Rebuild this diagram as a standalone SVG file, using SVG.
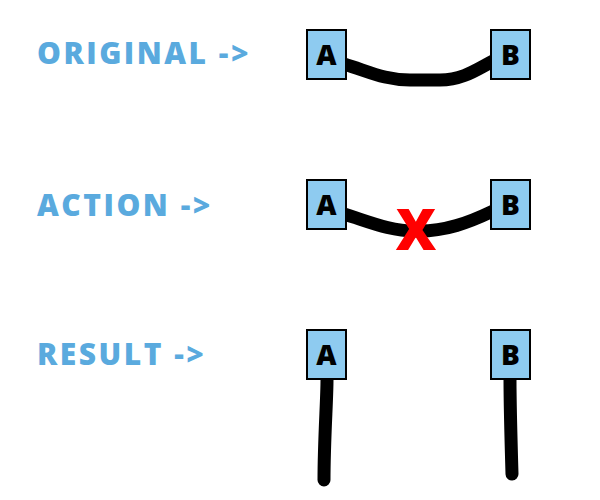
<svg xmlns="http://www.w3.org/2000/svg" width="600" height="500" viewBox="0 0 600 500">
<style>
.lbl{font-family:"Open Sans","DejaVu Sans",sans-serif;font-weight:800;font-size:30px;fill:#5aaade;letter-spacing:2.5px}
.box rect{fill:#8ecbf0;stroke:#000;stroke-width:2}
.box text{font-family:"Open Sans","DejaVu Sans",sans-serif;font-weight:800;font-size:28px;fill:#000;text-anchor:middle}
.wire{fill:none;stroke:#000;stroke-width:13;stroke-linecap:round;stroke-linejoin:round}
</style>
<rect width="600" height="500" fill="#fff"/>
<text class="lbl" x="37" y="64">ORIGINAL -&gt;</text>
<text class="lbl" x="37" y="216">ACTION -&gt;</text>
<text class="lbl" x="37" y="365">RESULT -&gt;</text>
<g id="connectors">
<path class="wire" d="M344,64 C370,72 385,80 410,80 L440,80 C462,80 476,70 493,61"/>
<path class="wire" d="M344,214 C370,222 390,231 415,231 C445,232 470,222 493,211"/>
<path class="wire" d="M327,380 C327,400 324,440 324,480"/>
<path class="wire" d="M510,380 C510,400 511,440 512,474"/>
</g>
<g id="nodeA1" class="box"><rect x="307" y="30" width="39" height="49"/><text x="326.5" y="65">A</text></g>
<g id="nodeB1" class="box"><rect x="491" y="30" width="39" height="49"/><text x="510.5" y="65">B</text></g>
<g id="nodeA2" class="box"><rect x="307" y="180" width="39" height="49"/><text x="326.5" y="215">A</text></g>
<g id="nodeB2" class="box"><rect x="491" y="180" width="39" height="49"/><text x="510.5" y="215">B</text></g>
<g id="nodeA3" class="box"><rect x="307" y="330" width="39" height="49"/><text x="326.5" y="365">A</text></g>
<g id="nodeB3" class="box"><rect x="491" y="330" width="39" height="49"/><text x="510.5" y="365">B</text></g>
<g id="cross"><text x="416" y="250" font-family="Open Sans, DejaVu Sans, sans-serif" font-weight="800" font-size="56" fill="#f00" text-anchor="middle">X</text></g>
</svg>
